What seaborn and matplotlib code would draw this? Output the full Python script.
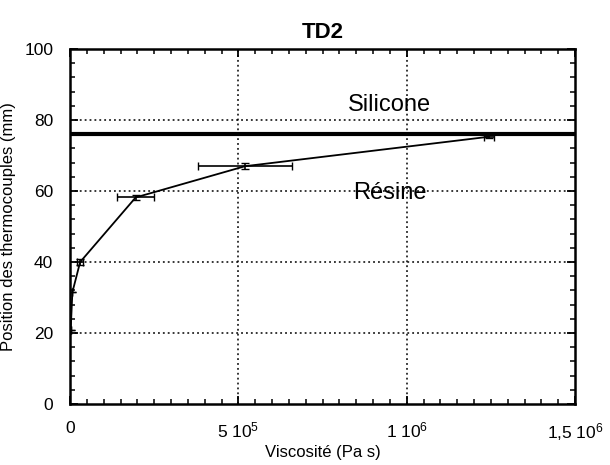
import matplotlib
matplotlib.use("Agg")
import matplotlib.pyplot as plt
import seaborn as sns
import numpy as np
import pandas as pd
from matplotlib.ticker import MultipleLocator

# Data
viscosite = [2e3, 7e3, 3e4, 1.95e5, 5.2e5, 1.245e6]
position = [21, 31.5, 40, 58.2, 67, 75.3]
visc_err = [0, 0, 1.0e4, 5.5e4, 1.4e5, 1.5e4]
pos_err = [0, 0, 0.8, 0.8, 0.8, 0.5]

interface = 76.2
xticks = [0, 5e5, 1e6, 1.5e6]
xtick_labels = ["0", "5 10$^{5}$", "1 10$^{6}$", "1,5 10$^{6}$"]
yticks = [0, 20, 40, 60, 80, 100]

df = pd.DataFrame({"Viscosite": viscosite, "Position": position})

sns.set_style("ticks")
plt.rcParams["font.family"] = ["Liberation Sans", "DejaVu Sans"]
plt.rcParams["mathtext.default"] = "regular"
plt.rcParams["text.color"] = "black"
plt.rcParams["axes.labelcolor"] = "black"
plt.rcParams["xtick.color"] = "black"
plt.rcParams["ytick.color"] = "black"

fig = plt.figure(figsize=(6.1, 4.65), dpi=100)
ax = fig.add_axes([0.1148, 0.131, 0.828, 0.7636])

sns.lineplot(data=df, x="Viscosite", y="Position", sort=False,
             color="black", linewidth=1.3, ax=ax)
ax.errorbar(viscosite, position, xerr=visc_err, yerr=pos_err, fmt="none",
            ecolor="black", elinewidth=1.2, capsize=3)

ax.axhline(interface, color="black", linewidth=3)

ax.set_xlim(0, 1.5e6)
ax.set_ylim(0, 100)
ax.set_xticks(xticks)
ax.set_xticklabels(xtick_labels)
ax.set_yticks(yticks)
ax.xaxis.set_minor_locator(MultipleLocator(5e4))
ax.yaxis.set_minor_locator(MultipleLocator(4))
ax.tick_params(which="both", direction="in", top=True, right=True,
               labelsize=12.5)
ax.tick_params(which="major", length=6, width=1.3, pad=12)
ax.tick_params(which="minor", length=3.5, width=1.1)

for g in xticks[1:-1]:
    ax.axvline(g, color="black", linestyle=(0, (1.2, 2)), linewidth=1.1)
for g in yticks[1:-1]:
    ax.axhline(g, color="black", linestyle=(0, (1.2, 2)), linewidth=1.1)

for s in ax.spines.values():
    s.set_linewidth(1.8)
    s.set_color("black")

ax.text(9.5e5, 84.2, "Silicone", fontsize=17, ha="center", va="center")
ax.text(9.5e5, 59.5, "Résine", fontsize=17, ha="center", va="center")

ax.set_xlabel("Viscosité (Pa s)", fontsize=12, labelpad=2)
ax.set_ylabel("Position des thermocouples (mm)", fontsize=12, labelpad=6)
ax.set_title("TD2", fontsize=16, fontweight="bold", pad=8)

fig.savefig("out.png", dpi=100)
